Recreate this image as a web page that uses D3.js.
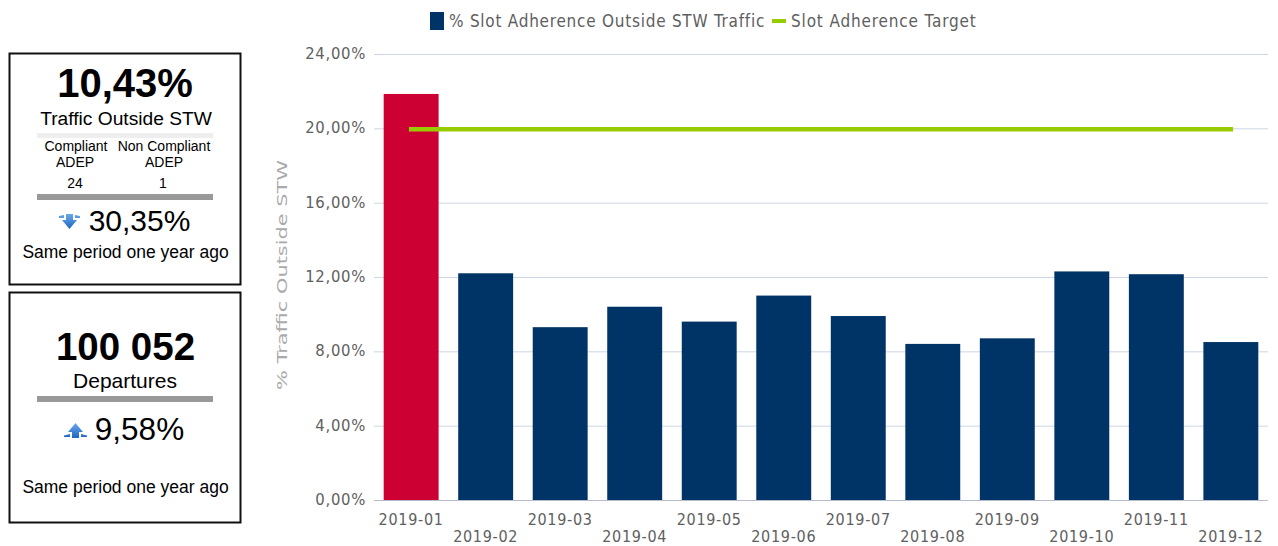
<!DOCTYPE html>
<html><head><meta charset="utf-8">
<script src="https://cdnjs.cloudflare.com/ajax/libs/d3/7.8.5/d3.min.js"></script>
<style>
html,body{margin:0;padding:0;background:#fff;overflow:hidden}
svg{display:block}
.c{font-family:"DejaVu Sans Condensed","DejaVu Sans";fill:#606060;letter-spacing:.7px}
.k{font-family:"Liberation Sans",Arial,sans-serif;fill:#000;text-anchor:middle}
</style></head><body>
<svg id="chart" width="1278" height="546"></svg>
<script>
const categories=["2019-01","2019-02","2019-03","2019-04","2019-05","2019-06","2019-07","2019-08","2019-09","2019-10","2019-11","2019-12"];
const adherence=[21.85,12.2,9.3,10.4,9.6,11.0,9.9,8.4,8.7,12.3,12.15,8.5];
const target=[20,20,20,20,20,20,20,20,20,20,20,20];
const yTicks=[0,4,8,12,16,20,24];
const legendLabels=["% Slot Adherence Outside STW Traffic","Slot Adherence Target"];
const svg=d3.select("#chart");
const x=d3.scaleBand().domain(categories).range([374,1268]).paddingInner(0.263).paddingOuter(0.13);
const y=d3.scaleLinear().domain([0,24]).range([500,54]);
const fmt=v=>v.toFixed(2).replace(".",",")+"%";

const grad=svg.append("defs").append("linearGradient").attr("id","arrow").attr("x1",0).attr("x2",0).attr("y1",0).attr("y2",1);
grad.append("stop").attr("offset","0").attr("stop-color","#6aa8ea");
grad.append("stop").attr("offset","1").attr("stop-color","#1f66c4");

// grid
svg.append("g").selectAll("line").data(yTicks).join("line")
 .attr("x1",374).attr("x2",1268).attr("y1",d=>y(d)+.5).attr("y2",d=>y(d)+.5)
 .attr("stroke",d=>d===0?"#b4bccb":"#ccd6e3").attr("stroke-width",1);
// y labels
svg.append("g").selectAll("text").data(yTicks).join("text").attr("class","c")
 .attr("x",366).attr("y",d=>y(d)+5).attr("text-anchor","end").attr("font-size",16.5).text(fmt);
svg.append("text").attr("class","c").attr("transform","translate(287,275) rotate(-90)")
 .attr("text-anchor","middle").attr("font-size",14).attr("textLength",230).attr("lengthAdjust","spacingAndGlyphs")
 .style("fill","#aaa").style("letter-spacing","0").style("font-family","'DejaVu Sans'").text("% Traffic Outside STW");
// bars
svg.append("g").selectAll("rect").data(categories).join("rect")
 .attr("x",d=>x(d)).attr("width",x.bandwidth())
 .attr("y",(d,i)=>y(adherence[i])).attr("height",(d,i)=>y(0)-y(adherence[i]))
 .attr("fill",(d,i)=>adherence[i]>target[i]?"#cc0033":"#003366");
// x labels, staggered
svg.append("g").selectAll("text").data(categories).join("text").attr("class","c")
 .attr("x",d=>x(d)+x.bandwidth()/2).attr("y",(d,i)=>i%2?542:525)
 .attr("text-anchor","middle").attr("font-size",16).text(d=>d);
// target line
svg.append("path").datum(target).attr("fill","none").attr("stroke","#99cc00").attr("stroke-width",4.5)
 .attr("stroke-linecap","square").attr("transform","translate(0,0.8)")
 .attr("d",d3.line().x((d,i)=>x(categories[i])+x.bandwidth()/2).y(d=>y(d)));
// legend
svg.append("rect").attr("x",430).attr("y",12).attr("width",14).attr("height",18).attr("fill","#003366");
svg.append("text").attr("class","c").style("letter-spacing",".75px").attr("x",449).attr("y",27).attr("font-size",17).text(legendLabels[0]);
svg.append("rect").attr("x",772).attr("y",19).attr("width",14).attr("height",4).attr("fill","#99cc00");
svg.append("text").attr("class","c").style("letter-spacing",".85px").attr("x",791).attr("y",27).attr("font-size",17).text(legendLabels[1]);

// KPI panels
const box=(y0,h)=>svg.append("rect").attr("x",9.5).attr("y",y0).attr("width",231).attr("height",h).attr("fill","none").attr("stroke","#111").attr("stroke-width",2);
box(53.5,231); box(292.5,230);
const t=(s,cx,yy,fs,w)=>svg.append("text").attr("class","k").attr("x",cx).attr("y",yy).attr("font-size",fs).attr("font-weight",w||400).text(s);
const bar=(yy,h,col)=>svg.append("rect").attr("x",37).attr("y",yy).attr("width",176).attr("height",h).attr("fill",col);
t("10,43%",125,97,40,700);
t("Traffic Outside STW",126,125,19.2);
bar(133,5,"#eeeeee");
t("Compliant",76,151,14); t("ADEP",75,167,14);
t("Non Compliant",164,151,14); t("ADEP",164,167,14);
t("24",75,188,14); t("1",163,188,14);
bar(194,6,"#999999");
t("30,35%",139.5,231,30);
t("Same period one year ago",125.5,258,17.5);
t("100 052",125.5,360,38.5,700);
t("Departures",125,388,21);
bar(396,6,"#999999");
t("9,58%",139.5,440,31.5);
t("Same period one year ago",125.5,493,17.5);
// trend arrows
svg.append("path").attr("fill","url(#arrow)").attr("d","M66 214h7v6h4l-7.500 9-7.500-9h4zM59 216l5 -1v3l-5 0zM75 215l5 1v2l-5 0z");
svg.append("path").attr("fill","url(#arrow)").attr("transform","translate(5,2)").attr("d","M74 436h-7v-6h-4l7.500-9 7.500 9h-4zM65 432v3h-1-5v-1.500zM76 432v3h6v-1.500z");
</script></body></html>
